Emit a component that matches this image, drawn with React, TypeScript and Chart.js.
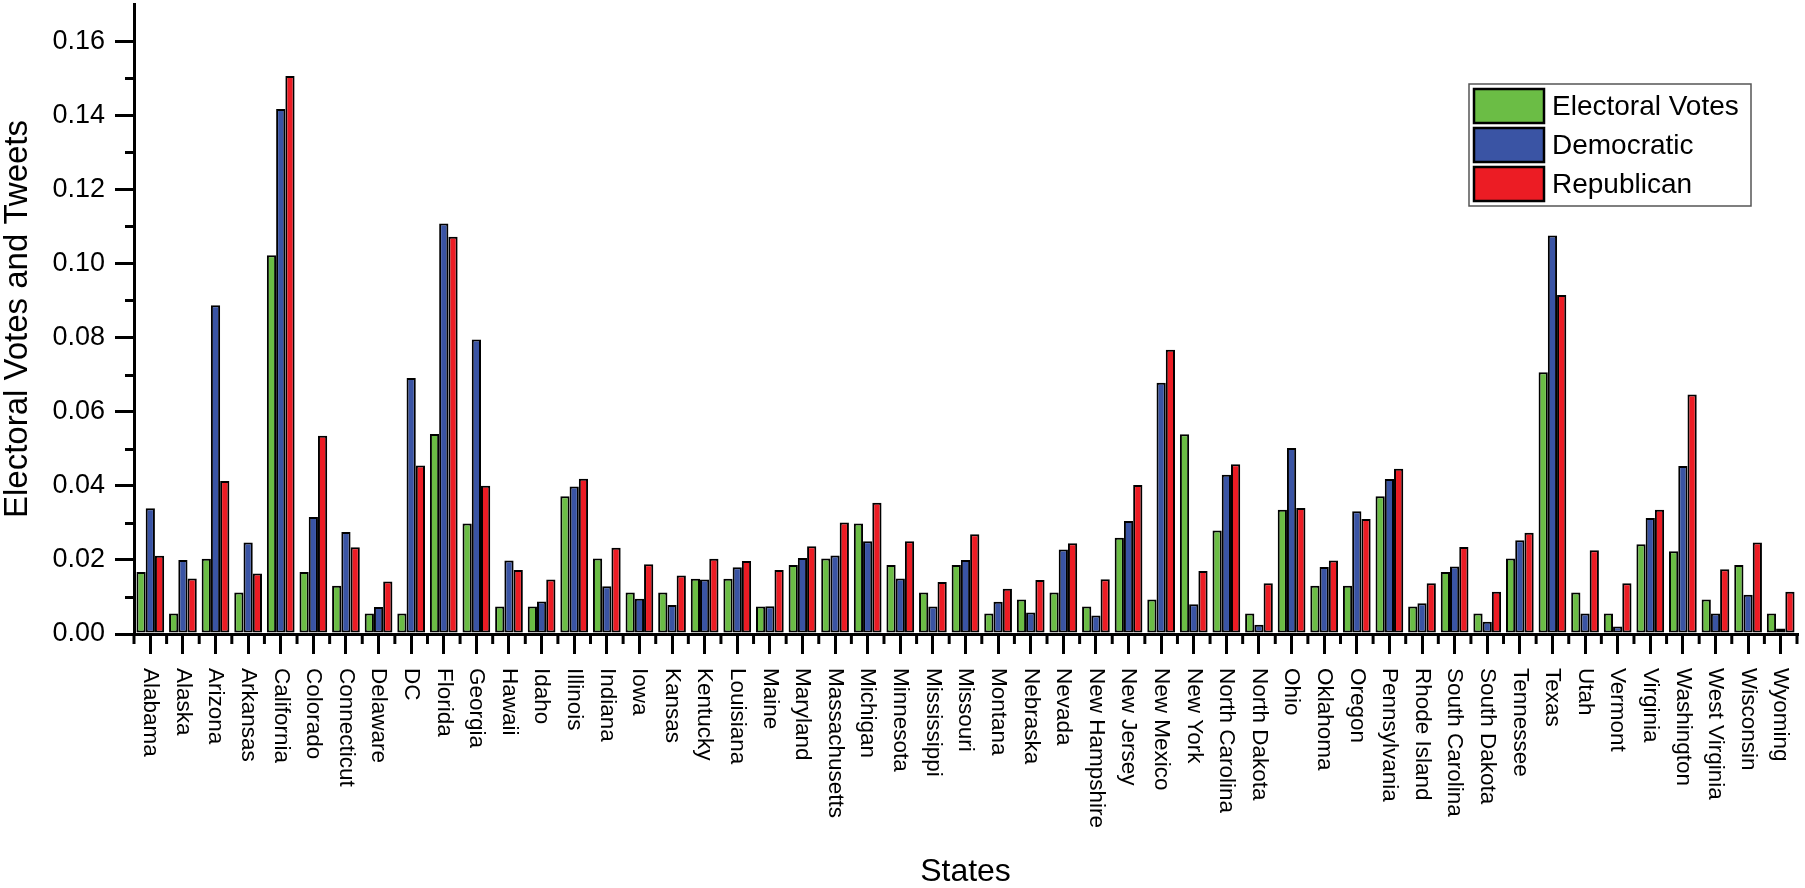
import React, { useEffect, useRef } from "react";
import { Chart, registerables } from "chart.js";

Chart.register(...registerables);

const states = [
  "Alabama", "Alaska", "Arizona", "Arkansas", "California", "Colorado", "Connecticut", "Delaware", "DC", "Florida",
  "Georgia", "Hawaii", "Idaho", "Illinois", "Indiana", "Iowa", "Kansas", "Kentucky", "Louisiana", "Maine",
  "Maryland", "Massachusetts", "Michigan", "Minnesota", "Mississippi", "Missouri", "Montana", "Nebraska", "Nevada", "New Hampshire",
  "New Jersey", "New Mexico", "New York", "North Carolina", "North Dakota", "Ohio", "Oklahoma", "Oregon", "Pennsylvania", "Rhode Island",
  "South Carolina", "South Dakota", "Tennessee", "Texas", "Utah", "Vermont", "Virginia", "Washington", "West Virginia", "Wisconsin",
  "Wyoming",
];

const electoralVotes = [
  0.0167, 0.0055, 0.0203, 0.0112, 0.1022, 0.0167, 0.0130, 0.0055, 0.0055, 0.0540,
  0.0298, 0.0074, 0.0074, 0.0372, 0.0204, 0.0112, 0.0112, 0.0149, 0.0149, 0.0074,
  0.0186, 0.0204, 0.0298, 0.0186, 0.0112, 0.0186, 0.0055, 0.0093, 0.0112, 0.0074,
  0.0260, 0.0093, 0.0539, 0.0279, 0.0055, 0.0335, 0.0130, 0.0130, 0.0372, 0.0074,
  0.0167, 0.0055, 0.0204, 0.0706, 0.0112, 0.0055, 0.0242, 0.0223, 0.0093, 0.0186,
  0.0055,
];

const democratic = [
  0.0339, 0.0200, 0.0887, 0.0247, 0.1417, 0.0316, 0.0275, 0.0073, 0.0691, 0.1108,
  0.0795, 0.0198, 0.0088, 0.0398, 0.0129, 0.0095, 0.0078, 0.0147, 0.0180, 0.0075,
  0.0205, 0.0212, 0.0250, 0.0150, 0.0074, 0.0200, 0.0087, 0.0058, 0.0228, 0.0050,
  0.0305, 0.0678, 0.0080, 0.0430, 0.0025, 0.0502, 0.0181, 0.0331, 0.0418, 0.0083,
  0.0182, 0.0033, 0.0253, 0.1075, 0.0055, 0.0020, 0.0313, 0.0453, 0.0055, 0.0106,
  0.0015,
];

const republican = [
  0.0211, 0.0150, 0.0413, 0.0163, 0.1506, 0.0535, 0.0234, 0.0142, 0.0455, 0.1072,
  0.0400, 0.0173, 0.0147, 0.0419, 0.0233, 0.0188, 0.0158, 0.0203, 0.0197, 0.0173,
  0.0237, 0.0301, 0.0354, 0.0250, 0.0140, 0.0269, 0.0122, 0.0146, 0.0245, 0.0148,
  0.0402, 0.0767, 0.0170, 0.0458, 0.0137, 0.0340, 0.0198, 0.0310, 0.0446, 0.0137,
  0.0235, 0.0114, 0.0273, 0.0915, 0.0226, 0.0137, 0.0335, 0.0646, 0.0175, 0.0247,
  0.0114,
];

const seriesNames = ["Electoral Votes", "Democratic", "Republican"];
const seriesColors = ["#6bbd45", "#3a54a4", "#ec1c24"];

const yMax = 0.17;
const yStep = 0.02;
const yMinorValues = [0.01, 0.03, 0.05, 0.07, 0.09, 0.11, 0.13, 0.15];

const FONT = "'Liberation Sans', Arial, Helvetica, sans-serif";

const decorPlugin = {
  id: "decor",
  afterDraw(chart: any) {
    const ctx = chart.ctx as CanvasRenderingContext2D;
    const xs = chart.scales.x;
    const ys = chart.scales.y;
    const area = chart.chartArea;
    ctx.save();
    ctx.strokeStyle = "#000";
    ctx.lineCap = "butt";
    ctx.lineWidth = 3;
    // y minor ticks
    for (const v of yMinorValues) {
      const py = Math.round(ys.getPixelForValue(v)) + 0.5;
      ctx.beginPath();
      ctx.moveTo(area.left - 9, py);
      ctx.lineTo(area.left, py);
      ctx.stroke();
    }
    // x minor ticks at category boundaries
    const labels = chart.data.labels as string[];
    for (let i = 0; i <= labels.length; i++) {
      const px = xs.getPixelForValue(i - 0.5);
      ctx.beginPath();
      ctx.moveTo(px, area.bottom);
      ctx.lineTo(px, area.bottom + 10);
      ctx.stroke();
    }
    // rotated category labels (reading top to bottom)
    ctx.fillStyle = "#000";
    ctx.font = `22.5px ${FONT}`;
    ctx.textAlign = "left";
    ctx.textBaseline = "middle";
    labels.forEach((lab, i) => {
      const px = xs.getPixelForTick(i);
      ctx.save();
      ctx.translate(px, area.bottom + 34);
      ctx.rotate(Math.PI / 2);
      ctx.fillText(lab, 0, 0);
      ctx.restore();
    });
    // legend
    const boxL = area.right - 328;
    const boxT = area.top + 80;
    const boxW = 282;
    const boxH = 122;
    ctx.fillStyle = "#fff";
    ctx.fillRect(boxL, boxT, boxW, boxH);
    ctx.strokeStyle = "#555";
    ctx.lineWidth = 1.5;
    ctx.strokeRect(boxL, boxT, boxW, boxH);
    chart.data.datasets.forEach((ds: any, i: number) => {
      const sy = boxT + 5 + i * 39;
      ctx.fillStyle = ds.backgroundColor;
      ctx.fillRect(boxL + 5, sy, 70, 34);
      ctx.strokeStyle = "#000";
      ctx.lineWidth = 2.5;
      ctx.strokeRect(boxL + 5, sy, 70, 34);
      ctx.fillStyle = "#000";
      ctx.font = `28px ${FONT}`;
      ctx.textAlign = "left";
      ctx.textBaseline = "middle";
      ctx.fillText(ds.label, boxL + 83, sy + 18);
    });
    ctx.restore();
  },
};

export default function App() {
  const canvasRef = useRef<HTMLCanvasElement | null>(null);

  useEffect(() => {
    document.body.style.margin = "0";
    const canvas = canvasRef.current;
    if (!canvas) return;
    const values = [electoralVotes, democratic, republican];
    const chart = new Chart(canvas, {
      type: "bar",
      data: {
        labels: states,
        datasets: seriesNames.map((name, i) => ({
          label: name,
          data: values[i],
          backgroundColor: seriesColors[i],
          borderColor: "#000",
          borderWidth: 2,
          borderSkipped: false,
          categoryPercentage: 0.85,
          barPercentage: 1.0,
        })),
      },
      options: {
        animation: false,
        responsive: false,
        devicePixelRatio: 1,
        layout: { padding: { top: 4, right: 8, left: 0, bottom: 0 } },
        plugins: {
          legend: { display: false },
          tooltip: { enabled: false },
        },
        scales: {
          x: {
            offset: true,
            grid: {
              offset: false,
              drawOnChartArea: false,
              drawTicks: true,
              tickLength: 20,
              tickWidth: 3,
              tickColor: "#000",
              lineWidth: 3,
              color: "#000",
            },
            border: { display: true, color: "#000", width: 3 },
            ticks: {
              autoSkip: false,
              minRotation: 90,
              maxRotation: 90,
              color: "rgba(0,0,0,0)",
              font: { family: FONT, size: 22 },
            },
            title: {
              display: true,
              text: "States",
              color: "#000",
              font: { family: FONT, size: 32, lineHeight: 1 },
              padding: { top: 0, bottom: 0 },
            },
            afterFit(s: any) {
              s.height = 254;
              s.paddingLeft = 0;
              s.paddingRight = 0;
            },
          },
          y: {
            min: 0,
            max: yMax,
            grid: {
              drawOnChartArea: false,
              drawTicks: true,
              tickLength: 19,
              tickWidth: 3,
              tickColor: "#000",
              lineWidth: 3,
              color: "#000",
            },
            border: { display: true, color: "#000", width: 3 },
            ticks: {
              stepSize: yStep,
              includeBounds: false,
              padding: 10,
              color: "#000",
              font: { family: FONT, size: 27 },
              callback: (v: any) => Number(v).toFixed(2),
            },
            title: {
              display: true,
              text: "Electoral Votes and Tweets",
              color: "#000",
              font: { family: FONT, size: 33, lineHeight: 1 },
              padding: { top: 1, bottom: 0 },
            },
            afterFit(s: any) {
              s.width = 134;
              s.paddingTop = 0;
              s.paddingBottom = 0;
            },
          },
        },
      },
      plugins: [decorPlugin],
    });
    return () => chart.destroy();
  }, []);

  return (
    <div style={{ position: "fixed", left: 0, top: 0, width: 1805, height: 888, background: "#fff" }}>
      <canvas ref={canvasRef} width={1805} height={888} style={{ display: "block" }} />
    </div>
  );
}
